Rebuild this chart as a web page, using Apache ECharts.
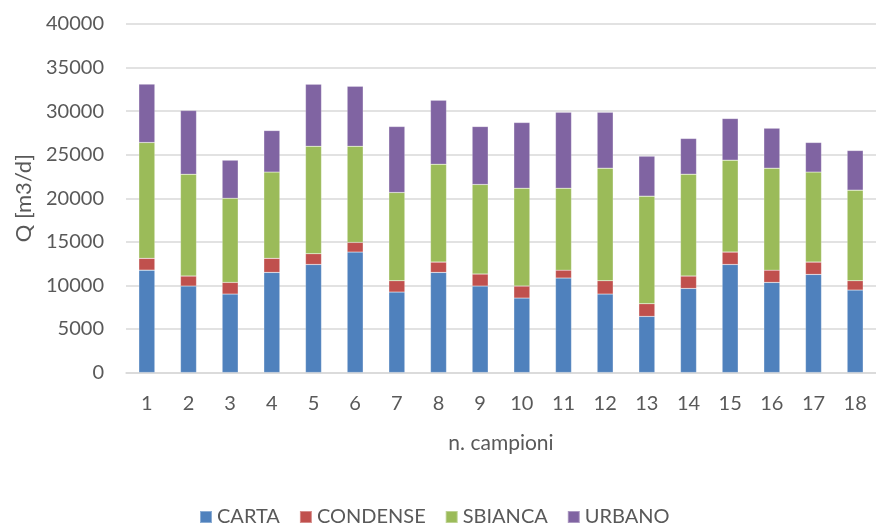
<!DOCTYPE html>
<html>
<head>
<meta charset="utf-8">
<script src="https://cdn.jsdelivr.net/npm/echarts@6/dist/echarts.min.js"></script>
<style>
  html, body { margin: 0; padding: 0; background: #fff; }
  #chart { width: 876px; height: 525px; }
</style>
</head>
<body>
<div id="chart"></div>
<script>
// campioni
var categories = ['1', '2', '3', '4', '5', '6', '7', '8', '9', '10', '11', '12', '13', '14', '15', '16', '17', '18']
// portate per sorgente [m3/d]
var carta    = [11750, 9920, 9000, 11490, 12400, 13820, 9230, 11490, 9920, 8540, 10840, 9000, 6440, 9650, 12400, 10340, 11260, 9460]
var condense = [1350, 1150, 1340, 1610, 1230, 1110, 1300, 1180, 1380, 1380, 910, 1530, 1450, 1420, 1420, 1410, 1410, 1070]
var sbianca  = [13300, 11690, 9660, 9900, 12340, 11040, 10130, 11240, 10280, 11240, 9410, 12920, 12350, 11690, 10550, 11700, 10330, 10400]
var urbano   = [6700, 7310, 4370, 4770, 7110, 6880, 7570, 7340, 6650, 7530, 8710, 6420, 4590, 4100, 4780, 4590, 3400, 4550]

var font = 'Lato, "Open Sans", sans-serif'
var textColor = '#595959'

var myChart = echarts.init(document.getElementById('chart'))

function barSeries(name, data) {
  return {
    name: name,
    type: 'bar',
    stack: 'tot',
    barWidth: 16,
    data: data,
    animation: false,
    itemStyle: {
      borderColor: 'rgba(255,255,255,0.35)',
      borderWidth: 0.5
    }
  }
}

var option = {
  backgroundColor: '#fff',
  color: ['#4F81BD', '#C0504D', '#9BBB59', '#8064A2'],
  textStyle: { fontFamily: font, color: textColor },
  grid: {
    left: 126,
    top: 24,
    width: 754,
    height: 348.5
  },
  legend: {
    top: 502,
    left: 194,
    itemWidth: 12,
    itemHeight: 12,
    itemGap: 19,
    icon: 'rect',
    textStyle: { fontFamily: font, fontSize: 20, color: textColor },
    data: ['CARTA', 'CONDENSE', 'SBIANCA', 'URBANO']
  },
  xAxis: {
    type: 'category',
    data: categories,
    name: 'n. campioni',
    nameLocation: 'middle',
    nameGap: 60,
    nameTextStyle: { fontFamily: font, fontSize: 21, color: textColor },
    axisLine: { lineStyle: { color: '#d9d9d9', width: 1.5 } },
    axisTick: { show: false },
    axisLabel: { margin: 21, fontSize: 20, color: textColor, fontFamily: font }
  },
  yAxis: {
    type: 'value',
    min: 0,
    max: 40000,
    interval: 5000,
    name: 'Q [m3/d]',
    nameLocation: 'middle',
    nameGap: 90,
    nameTextStyle: { fontFamily: font, fontSize: 22, color: textColor },
    axisLine: { show: false },
    axisTick: { show: false },
    axisLabel: {
      margin: 22,
      fontSize: 20,
      color: textColor,
      fontFamily: font,
      formatter: function (v) { return String(v) }
    },
    splitLine: { lineStyle: { color: '#d9d9d9', width: 1.5 } }
  },
  series: [
    barSeries('CARTA', carta),
    barSeries('CONDENSE', condense),
    barSeries('SBIANCA', sbianca),
    barSeries('URBANO', urbano)
  ]
}
myChart.setOption(option)
</script>
</body>
</html>
